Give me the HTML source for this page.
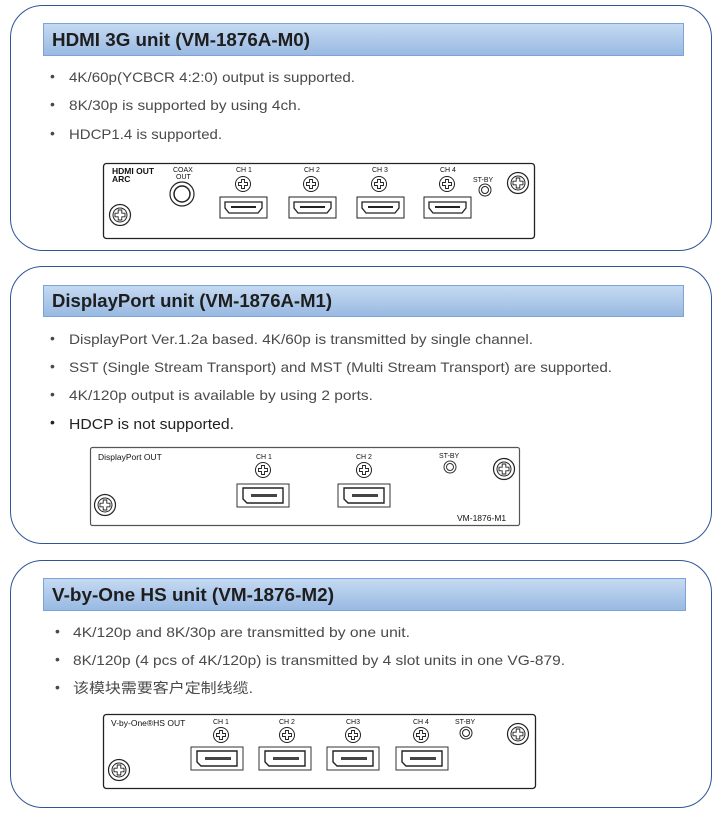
<!DOCTYPE html>
<html><head><meta charset="utf-8"><style>
html,body{margin:0;padding:0;background:#fff;}
svg{display:block;}
.h{font-family:"Liberation Sans",sans-serif;font-weight:bold;font-size:18px;fill:#1e1e1e;}
.t{font-family:"Liberation Sans","Noto Sans CJK SC",sans-serif;font-size:14px;fill:#4a4a4a;}
.b{font-family:"Liberation Sans",sans-serif;font-size:14px;fill:#4a4a4a;}
.p{font-family:"Liberation Sans",sans-serif;font-size:7px;fill:#111;}
.pl{font-family:"Liberation Sans",sans-serif;font-size:8.5px;fill:#111;}
</style></head><body>
<svg width="722" height="817" viewBox="0 0 722 817" xmlns="http://www.w3.org/2000/svg">
<defs>
<linearGradient id="g" x1="0" y1="0" x2="0" y2="1"><stop offset="0" stop-color="#c6daf2"/><stop offset="1" stop-color="#98b9e2"/></linearGradient>
<g id="screw"><circle r="10.5" fill="#fff" stroke="#222" stroke-width="1.2"/><circle r="7" fill="none" stroke="#222" stroke-width="1"/><path d="M-1.8,-5 h3.6 v3.2 h3.2 v3.6 h-3.2 v3.2 h-3.6 v-3.2 h-3.2 v-3.6 h3.2z" fill="none" stroke="#222" stroke-width="0.9"/></g>
<g id="sm"><circle r="7.5" fill="#fff" stroke="#222" stroke-width="1"/><path d="M-1.5,-4.5 h3 v3 h3 v3 h-3 v3 h-3 v-3 h-3 v-3 h3z" fill="none" stroke="#222" stroke-width="0.9"/></g>
<g id="hdmi"><rect x="0" y="0" width="47" height="21" fill="#fff" stroke="#222" stroke-width="1"/><path d="M5,5 h37 v6 l-4,5 h-29 l-4,-5z" fill="none" stroke="#222" stroke-width="1.3"/><rect x="11" y="9" width="25" height="2" fill="#222"/></g>
<g id="dp"><rect x="0" y="0" width="52" height="23" fill="#fff" stroke="#333" stroke-width="1"/><path d="M6,4 h40 v15 h-36 l-4,-4z" fill="none" stroke="#222" stroke-width="1.4"/><rect x="14" y="10" width="26" height="3" fill="#444"/></g>
</defs>

<!-- Box 1 -->
<rect x="10.5" y="5.5" width="701" height="245" rx="32" fill="#fff" stroke="#2f5597" stroke-width="1"/>
<rect x="43.5" y="23.5" width="640" height="32" fill="url(#g)" stroke="#7ea3d6"/>
<text class="h" x="52" y="46" textLength="258" lengthAdjust="spacingAndGlyphs">HDMI 3G unit (VM-1876A-M0)</text>
<text class="b" x="50" y="81">•</text><text class="t" x="69" y="82" textLength="286" lengthAdjust="spacingAndGlyphs">4K/60p(YCBCR 4:2:0) output is supported.</text>
<text class="b" x="50" y="109">•</text><text class="t" x="69" y="110" textLength="232" lengthAdjust="spacingAndGlyphs">8K/30p is supported by using 4ch.</text>
<text class="b" x="50" y="138">•</text><text class="t" x="69" y="139" textLength="153" lengthAdjust="spacingAndGlyphs">HDCP1.4 is supported.</text>
<rect x="103.5" y="163.5" width="431" height="75" rx="3" fill="#fff" stroke="#222" stroke-width="1.3"/>
<text class="pl" x="112" y="174" font-weight="bold">HDMI OUT</text><text class="pl" x="112" y="182" font-weight="bold">ARC</text>
<text class="p" x="173" y="172">COAX</text><text class="p" x="176" y="179">OUT</text>
<circle cx="182" cy="194" r="12" fill="#fff" stroke="#222" stroke-width="1.2"/><circle cx="182" cy="194" r="8" fill="none" stroke="#222" stroke-width="1.5"/>
<use href="#screw" x="120" y="215"/><use href="#screw" x="518" y="183"/>
<text class="p" x="236" y="172">CH 1</text><use href="#sm" x="243" y="184"/><use href="#hdmi" x="220" y="197"/>
<text class="p" x="304" y="172">CH 2</text><use href="#sm" x="311" y="184"/><use href="#hdmi" x="289" y="197"/>
<text class="p" x="372" y="172">CH 3</text><use href="#sm" x="379" y="184"/><use href="#hdmi" x="357" y="197"/>
<text class="p" x="440" y="172">CH 4</text><use href="#sm" x="447" y="184"/><use href="#hdmi" x="424" y="197"/>
<text class="p" x="473" y="182">ST-BY</text><circle cx="485" cy="190" r="6" fill="#fff" stroke="#222"/><circle cx="485" cy="190" r="3.5" fill="none" stroke="#222"/>

<!-- Box 2 -->
<rect x="10.5" y="266.5" width="701" height="277" rx="32" fill="#fff" stroke="#2f5597" stroke-width="1"/>
<rect x="43.5" y="285.5" width="640" height="31" fill="url(#g)" stroke="#7ea3d6"/>
<text class="h" x="52" y="307" textLength="280" lengthAdjust="spacingAndGlyphs">DisplayPort unit (VM-1876A-M1)</text>
<text class="b" x="50" y="343">•</text><text class="t" x="69" y="344" textLength="464" lengthAdjust="spacingAndGlyphs">DisplayPort Ver.1.2a based. 4K/60p is transmitted by single channel.</text>
<text class="b" x="50" y="371">•</text><text class="t" x="69" y="372" textLength="543" lengthAdjust="spacingAndGlyphs">SST (Single Stream Transport) and MST (Multi Stream Transport) are supported.</text>
<text class="b" x="50" y="399">•</text><text class="t" x="69" y="400" textLength="304" lengthAdjust="spacingAndGlyphs">4K/120p output is available by using 2 ports.</text>
<text class="b" x="50" y="427" style="fill:#222">•</text><text class="t" x="69" y="429" textLength="165" lengthAdjust="spacingAndGlyphs" style="fill:#222;font-size:15px">HDCP is not supported.</text>
<rect x="90.5" y="447.5" width="429" height="78" rx="2" fill="#fff" stroke="#555" stroke-width="1.2"/>
<text class="pl" x="98" y="460" fill="#333">DisplayPort OUT</text>
<text class="p" x="256" y="459">CH 1</text><use href="#sm" x="263" y="470"/><use href="#dp" x="237" y="484"/>
<text class="p" x="356" y="459">CH 2</text><use href="#sm" x="364" y="470"/><use href="#dp" x="338" y="484"/>
<text class="p" x="439" y="458">ST-BY</text><circle cx="450" cy="467" r="6" fill="#fff" stroke="#333"/><circle cx="450" cy="467" r="3.5" fill="none" stroke="#333"/>
<use href="#screw" x="504" y="469" transform="translate(0,0)"/><use href="#screw" x="105" y="505"/>
<text class="pl" x="457" y="521">VM-1876-M1</text>

<!-- Box 3 -->
<rect x="10.5" y="560.5" width="701" height="247" rx="32" fill="#fff" stroke="#2f5597" stroke-width="1"/>
<rect x="43.5" y="578.5" width="642" height="32" fill="url(#g)" stroke="#7ea3d6"/>
<text class="h" x="52" y="601" textLength="282" lengthAdjust="spacingAndGlyphs">V-by-One HS unit (VM-1876-M2)</text>
<text class="b" x="55" y="636">•</text><text class="t" x="73" y="637" textLength="337" lengthAdjust="spacingAndGlyphs">4K/120p and 8K/30p are transmitted by one unit.</text>
<text class="b" x="55" y="664">•</text><text class="t" x="73" y="665" textLength="492" lengthAdjust="spacingAndGlyphs">8K/120p (4 pcs of 4K/120p) is transmitted by 4 slot units in one VG-879.</text>
<text class="b" x="55" y="692">•</text><text class="t" x="73" y="693" textLength="180" lengthAdjust="spacingAndGlyphs">该模块需要客户定制线缆.</text>
<rect x="103.5" y="714.5" width="432" height="74" rx="3" fill="#fff" stroke="#222" stroke-width="1.3"/>
<text class="pl" x="111" y="726">V-by-One®HS OUT</text>
<text class="p" x="213" y="724">CH 1</text><use href="#sm" x="221" y="735"/><use href="#dp" x="191" y="747"/>
<text class="p" x="279" y="724">CH 2</text><use href="#sm" x="287" y="735"/><use href="#dp" x="259" y="747"/>
<text class="p" x="346" y="724">CH3</text><use href="#sm" x="353" y="735"/><use href="#dp" x="327" y="747"/>
<text class="p" x="413" y="724">CH 4</text><use href="#sm" x="421" y="735"/><use href="#dp" x="396" y="747"/>
<text class="p" x="455" y="724">ST-BY</text><circle cx="466" cy="733" r="6" fill="#fff" stroke="#222"/><circle cx="466" cy="733" r="3.5" fill="none" stroke="#222"/>
<use href="#screw" x="518" y="734"/><use href="#screw" x="119" y="770"/>
</svg>
</body></html>
